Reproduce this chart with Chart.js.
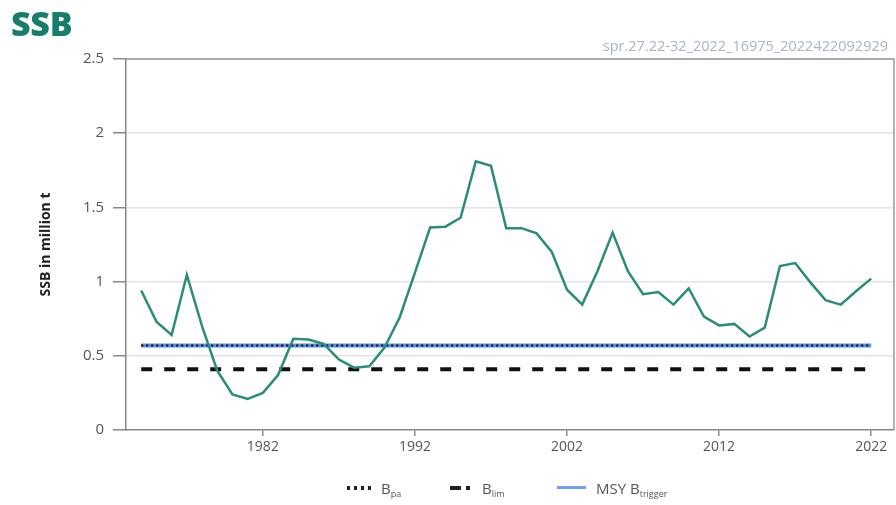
<!DOCTYPE html>
<html>
<head>
<meta charset="utf-8">
<script src="https://cdn.jsdelivr.net/npm/chart.js@4.4.1/dist/chart.umd.min.js"></script>
<style>
    body { margin: 0; background: #fff; font-family: "Open Sans", sans-serif; }
    #wrap { position: relative; width: 896px; height: 505px; }
    #ssb-chart { position: absolute; left: 0; top: 0; }
    .big-title { position: absolute; left: 11px; top: 0px; font-size: 34px; font-weight: 800; color: #157d6a; letter-spacing: -0.3px; }
    .code-title { position: absolute; right: 8px; top: 36px; font-size: 14.5px; color: #a9b4c2; }
    .legend { position: absolute; top: 478px; left: 0; width: 896px; font-size: 15px; color: #555; }
    .legend span.item { position: absolute; top: 0; white-space: nowrap; }
    .legend sub { font-size: 9px; vertical-align: -3px; }
    .swatch { display: inline-block; height: 3px; vertical-align: middle; margin-right: 10px; position: relative; top: -2px; }
</style>
</head>
<body>
<div id="wrap">
    <canvas id="ssb-chart" width="896" height="505"></canvas>
    <div class="big-title">SSB</div>
    <div class="code-title">spr.27.22-32_2022_16975_2022422092929</div>
    <div class="legend">
        <span class="item" style="left:347px"><span class="swatch" style="width:24px;height:4px;background:repeating-linear-gradient(90deg,#222 0 3px,transparent 3px 7px)"></span>B<sub>pa</sub></span>
        <span class="item" style="left:450px"><span class="swatch" style="width:22px;height:4px;background:linear-gradient(90deg,#222 0 11px,transparent 11px 16px,#222 16px 20px,transparent 20px)"></span>B<sub>lim</sub></span>
        <span class="item" style="left:557px"><span class="swatch" style="width:29px;background:#6f9ef2"></span>MSY B<sub>trigger</sub></span>
    </div>
</div>
<script>
// spawning stock biomass, million tonnes
const years = [1974, 1975, 1976, 1977, 1978, 1979, 1980, 1981, 1982, 1983,
    1984, 1985, 1986, 1987, 1988, 1989, 1990, 1991, 1992, 1993,
    1994, 1995, 1996, 1997, 1998, 1999, 2000, 2001, 2002, 2003,
    2004, 2005, 2006, 2007, 2008, 2009, 2010, 2011, 2012, 2013,
    2014, 2015, 2016, 2017, 2018, 2019, 2020, 2021, 2022];
const ssb = [0.94, 0.73, 0.64, 1.045, 0.70, 0.40, 0.24, 0.21, 0.25, 0.37,
    0.615, 0.61, 0.58, 0.475, 0.42, 0.43, 0.555, 0.76, 1.06, 1.365,
    1.37, 1.43, 1.81, 1.78, 1.36, 1.36, 1.325, 1.20, 0.945, 0.845,
    1.07, 1.33, 1.07, 0.915, 0.93, 0.845, 0.955, 0.765, 0.705, 0.715,
    0.63, 0.69, 1.105, 1.125, 0.995, 0.875, 0.845, 0.935, 1.02];

// reference points
const bLim = 0.41;
const bPa = 0.57;
const msyBtrigger = 0.57;

const xTicks = [1982, 1992, 2002, 2012, 2022];
const yTicks = [0, 0.5, 1, 1.5, 2, 2.5];

const points = years.map((y, i) => ({ x: y, y: ssb[i] }));
const flat = v => [{ x: years[0], y: v }, { x: years[years.length - 1], y: v }];

// top + right frame of the plot
const frame = {
    id: 'frame',
    beforeDatasetsDraw(chart) {
        const { ctx, chartArea: a } = chart;
        ctx.save();
        ctx.strokeStyle = '#999';
        ctx.lineWidth = 1.5;
        ctx.beginPath();
        ctx.moveTo(a.left, a.top);
        ctx.lineTo(a.right, a.top);
        ctx.lineTo(a.right, a.bottom);
        ctx.stroke();
        ctx.restore();
    }
};

new Chart('ssb-chart', {
    type: 'line',
    data: {
        datasets: [
            {
                label: 'SSB',
                data: points,
                borderColor: '#2b8c7a',
                borderWidth: 2.5,
                pointRadius: 0,
                tension: 0
            },
            {
                label: 'Bpa',
                data: flat(bPa),
                borderColor: '#0a0a0a',
                borderWidth: 2,
                borderDash: [2, 3],
                pointRadius: 0
            },
            {
                label: 'MSY Btrigger',
                data: flat(msyBtrigger),
                borderColor: '#5b8de6',
                borderWidth: 4,
                pointRadius: 0
            },
            {
                label: 'Blim',
                data: flat(bLim),
                borderColor: '#111',
                borderWidth: 4,
                borderDash: [11, 12],
                pointRadius: 0
            }
        ]
    },
    options: {
        responsive: false,
        animation: false,
        layout: { padding: { left: 0, top: 59, right: 2, bottom: 45 } },
        plugins: {
            legend: { display: false },
            tooltip: { enabled: false }
        },
        scales: {
            x: {
                type: 'linear',
                min: 1973,
                max: 2023.5,
                afterBuildTicks: scale => { scale.ticks = xTicks.map(v => ({ value: v })); },
                afterFit: scale => { scale.height = 30; },
                border: { color: '#888', width: 1.5 },
                grid: { drawOnChartArea: false, drawTicks: true, tickLength: 6, tickColor: '#888', lineWidth: 1.5 },
                ticks: {
                    padding: 3,
                    color: '#555',
                    font: { family: 'Open Sans', size: 14 },
                    maxRotation: 0,
                    callback: v => String(v)
                }
            },
            y: {
                min: 0,
                max: 2.5,
                afterBuildTicks: scale => { scale.ticks = yTicks.map(v => ({ value: v })); },
                afterFit: scale => { scale.width = 126; },
                border: { color: '#888', width: 1.5 },
                grid: {
                    color: ctx => (ctx.tick && ctx.tick.value === 0) ? 'rgba(0,0,0,0)' : '#e3e3e3',
                    lineWidth: 1.5,
                    tickLength: 13,
                    tickColor: '#888'
                },
                ticks: {
                    padding: 9,
                    color: '#555',
                    font: { family: 'Open Sans', size: 15 },
                    callback: v => String(v)
                },
                title: {
                    display: true,
                    text: 'SSB in million t',
                    color: '#222',
                    padding: { top: 38, bottom: 0 },
                    font: { family: 'Open Sans', size: 14, weight: 'bold' }
                }
            }
        }
    },
    plugins: [frame]
});
</script>
</body>
</html>
